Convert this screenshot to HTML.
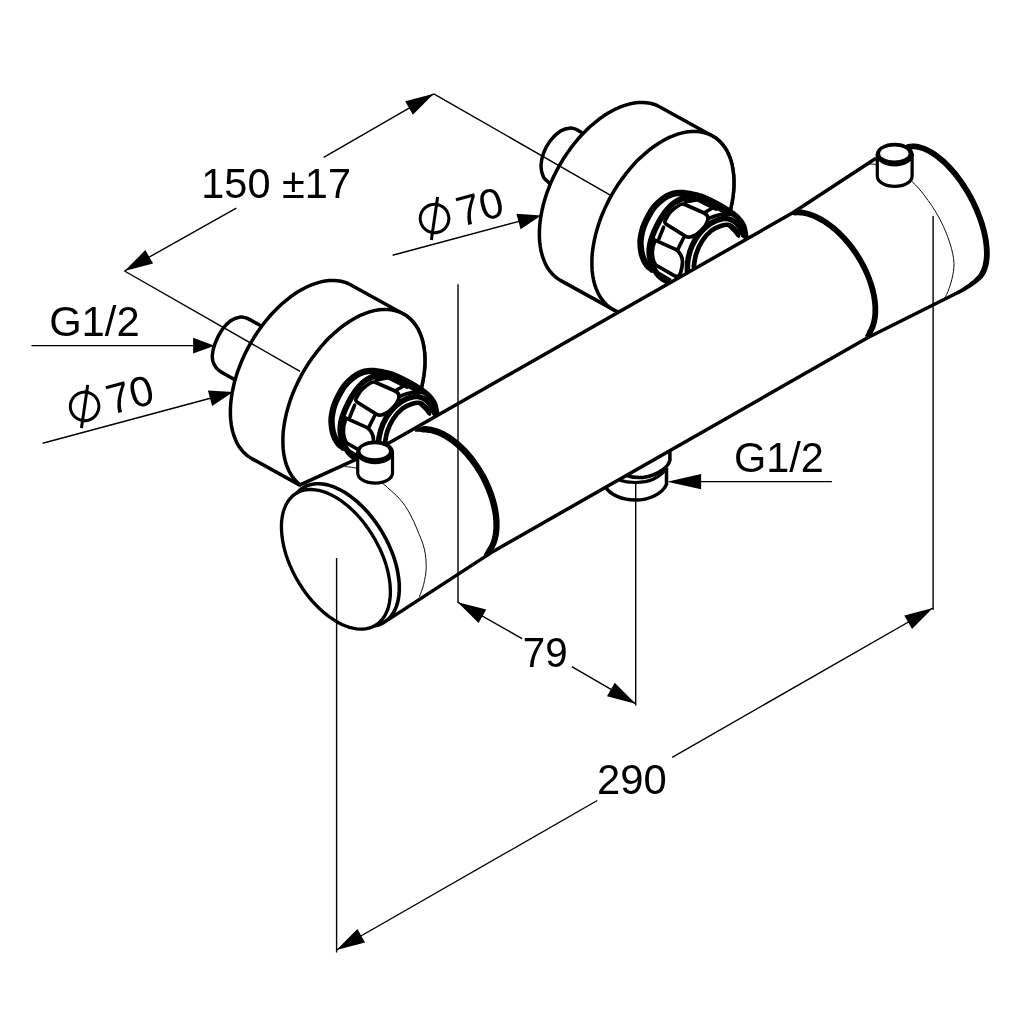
<!DOCTYPE html>
<html><head><meta charset="utf-8"><title>Dimension drawing</title>
<style>html,body{margin:0;padding:0;background:#fff}svg{display:block;will-change:transform}</style></head>
<body>
<svg width="1030" height="1030" viewBox="0 0 1030 1030" font-family="'Liberation Sans', sans-serif" fill="#000">
<rect width="1030" height="1030" fill="#fff"/>
<g id="fr"><path d="M584.6,134.4 C583.3,133.6 579.3,130.9 577,129.8 C574.7,128.7 573.4,127.7 570.7,127.9 C567.9,128.1 563.9,128.9 560.6,131 C557.2,133.1 553.3,136.8 550.5,140.5 C547.6,144.2 545.1,148.9 543.5,153.1 C542,157.3 541,161.7 541,165.7 C541,169.7 541.9,174 543.5,177.1 C545.2,180.2 549.9,183.2 551.1,184.4" fill="#fff" stroke="#000" stroke-width="3.5"/>
<path d="M660.4,107.2 L657.1,105.5 L653.7,104.2 L650.1,103.3 L646.3,102.7 L642.4,102.4 L638.3,102.5 L634.1,103 L629.9,103.9 L625.6,105.1 L621.2,106.6 L616.7,108.5 L612.3,110.7 L607.8,113.3 L603.4,116.1 L598.9,119.3 L594.6,122.8 L590.2,126.5 L586,130.6 L581.9,134.8 L577.8,139.3 L573.9,144 L570.2,148.9 L566.6,154 L563.1,159.3 L559.9,164.7 L556.9,170.1 L554,175.7 L551.4,181.4 L549.1,187.1 L546.9,192.8 L545.1,198.6 L543.4,204.3 L542.1,210 L541,215.6 L540.2,221.1 L539.6,226.5 L539.4,231.8 L539.4,237 L539.7,241.9 L540.3,246.7 L541.1,251.3 L542.3,255.6 L543.7,259.7 L545.3,263.6 L547.2,267.2 L549.4,270.4 L551.8,273.4 L554.5,276.1 L557.3,278.4 L560.4,280.4 L612.9,309.4 L616.2,311.1 L619.6,312.4 L623.2,313.3 L627,313.9 L630.9,314.2 L635,314.1 L639.2,313.6 L643.4,312.7 L647.7,311.5 L652.1,310 L656.6,308.1 L661,305.9 L665.5,303.3 L669.9,300.5 L674.4,297.3 L678.7,293.8 L683.1,290.1 L687.3,286 L691.4,281.8 L695.5,277.3 L699.4,272.6 L703.1,267.7 L706.7,262.6 L710.2,257.3 L713.4,252 L716.4,246.5 L719.3,240.9 L721.9,235.2 L724.2,229.5 L726.4,223.8 L728.2,218 L729.9,212.3 L731.2,206.6 L732.3,201 L733.1,195.5 L733.7,190.1 L733.9,184.8 L733.9,179.6 L733.6,174.7 L733,169.9 L732.2,165.3 L731,161 L729.6,156.9 L728,153 L726.1,149.4 L723.9,146.2 L721.5,143.2 L718.8,140.5 L716,138.2 L712.9,136.2 Z" fill="#fff" stroke="#000" stroke-width="3.5" stroke-linejoin="round"/>
<path d="M712.9,136.2 L716.3,138.4 L719.4,141.1 L722.3,144.2 L724.9,147.6 L727.2,151.4 L729.1,155.5 L730.8,160 L732.1,164.8 L733,169.9 L733.7,175.2 L733.9,180.8 L733.9,186.5 L733.5,192.5 L732.7,198.5 L731.6,204.7 L730.2,211 L728.4,217.4 L726.4,223.8 L724,230.1 L721.3,236.5 L718.3,242.7 L715.1,248.9 L711.6,255 L707.9,260.8 L703.9,266.5 L699.8,272 L695.5,277.3 L691,282.3 L686.4,287 L681.6,291.3 L676.8,295.4 L671.9,299.1 L667,302.4 L662,305.3 L657.1,307.9 L652.1,310 L647.3,311.7 L642.5,313 L637.8,313.8 L633.2,314.1 L628.8,314.1 L624.5,313.6 L620.4,312.6 L616.5,311.2 L612.9,309.4 L609.5,307.2 L606.4,304.5 L603.5,301.4 L600.9,298 L598.6,294.2 L596.7,290.1 L595,285.6 L593.7,280.8 L592.8,275.7 L592.1,270.4 L591.9,264.8 L591.9,259.1 L592.3,253.1 L593.1,247.1 L594.2,240.9 L595.6,234.6 L597.4,228.2 L599.4,221.8 L601.8,215.5 L604.5,209.1 L607.5,202.9 L610.7,196.7 L614.2,190.6 L617.9,184.8 L621.9,179.1 L626,173.6 L630.3,168.3 L634.8,163.3 L639.4,158.6 L644.2,154.3 L649,150.2 L653.9,146.5 L658.8,143.2 L663.8,140.3 L668.7,137.7 L673.7,135.6 L678.5,133.9 L683.3,132.6 L688,131.8 L692.6,131.5 L697,131.5 L701.3,132 L705.4,133 L709.3,134.4 L712.9,136.2 Z" fill="#fff" stroke="#000" stroke-width="3.5"/></g>
<g id="nr"><path d="M689.8,193.7 C686.3,193.2 683.4,192.1 679.3,192.6 C675.2,193.1 669.8,194.2 665.3,196.7 C660.8,199.1 656.2,202.7 652.5,207.1 C648.8,211.6 645.2,218 643.2,223.4 C641.1,228.9 640.2,234.5 640.2,239.8 C640.2,245 641.5,250.4 643.2,254.9 C644.8,259.4 647.6,263.3 650.1,266.6 C652.7,269.9 655.8,272.6 658.3,274.7 C660.8,276.8 660.4,279.6 665.3,279.4 C670.1,279.2 674,280.7 687.4,273.5 C700.8,266.4 736.4,244.2 745.7,236.3 C755,228.3 744.7,228.9 743.4,225.8 C742,222.7 739.9,220 737.5,217.6 C735.2,215.2 732.9,213.5 729.4,211.2 C725.9,208.9 721.4,206.2 716.6,203.6 C711.7,201.1 704.7,197.7 700.2,196.1 C695.8,194.4 693.3,194.3 689.8,193.7 Z" fill="#fff" stroke="none"/>
<path d="M689.8,193.9 C688.6,193.8 684.9,193.1 682.6,193 C680.3,192.9 677.9,192.9 676,193.2 C674.1,193.4 672.8,193.8 671,194.5 C669.2,195.2 667.2,196 665.3,197.2 C663.3,198.4 661.2,200.2 659.3,201.9 C657.3,203.7 655.3,205.6 653.6,207.7 C651.9,209.8 650.6,212.1 649.2,214.7 C647.8,217.2 646.2,220.3 645,223 C643.8,225.7 642.9,228.2 642.2,231 C641.5,233.8 640.9,237.2 640.6,239.8 C640.4,242.4 640.5,244.2 640.7,246.6 C640.9,249 641.2,251.7 641.8,254 C642.4,256.3 643.2,258.5 644.2,260.5 C645.2,262.5 646.3,264.3 647.6,265.8 C648.9,267.3 651.3,268.9 652,269.5" fill="none" stroke="#000" stroke-width="6.4" stroke-linecap="round"/>
<path d="M692.5,196.9 C691.3,197 687.6,197.2 685.5,197.6 C683.4,198 681.8,198.7 680,199.5 C678.2,200.3 676.2,201.3 674.5,202.5 C672.8,203.7 671.5,204.9 669.9,206.5 C668.3,208.1 666.5,210.2 665,212.3 C663.5,214.4 662,216.7 660.6,218.9 C659.2,221.2 658,223.5 656.8,225.8 C655.6,228.1 654.6,230.4 653.6,232.9 C652.6,235.4 651.5,238.2 650.8,240.8 C650.1,243.4 649.6,246 649.4,248.4 C649.2,250.8 649.2,253.2 649.5,255.3 C649.8,257.4 650.3,259.3 650.9,261.3 C651.5,263.3 652.3,265.3 653.3,267.3 C654.3,269.3 655.4,271.5 656.7,273.3 C658,275.1 659.5,276.5 661.3,277.9 C663.1,279.3 666.5,281 667.5,281.6" fill="none" stroke="#000" stroke-width="5.8" stroke-linecap="round"/>
<path d="M684.2,204.3 L703.6,212.8 C707.5,214.6 709.2,217.1 707.6,221.1 C705.3,227.9 698.1,234.2 692.1,236.5 C689.7,237.4 687.4,237.3 685.7,236.3 L667.1,224.8 C664.6,223.3 664.1,222.3 665.4,220 C667.8,214.6 673.3,208.5 679.5,205 C681.4,203.9 682.8,203.7 684.2,204.3 Z" fill="#fff" stroke="#000" stroke-width="3.7" stroke-linecap="round" stroke-linejoin="round"/>
<path d="M685.1,202 L698.8,199.5" fill="none" stroke="#000" stroke-width="3.4" stroke-linecap="round" stroke-linejoin="round"/>
<path d="M698.1,200.1 L716,209.1" fill="none" stroke="#000" stroke-width="3.5" stroke-linecap="round" stroke-linejoin="round"/>
<path d="M705.5,212 L711.7,208.5" fill="none" stroke="#000" stroke-width="3.5" stroke-linecap="round" stroke-linejoin="round"/>
<path d="M663.6,227.2 L658.9,238.7" fill="none" stroke="#000" stroke-width="3.6" stroke-linecap="round" stroke-linejoin="round"/>
<path d="M653.9,239.7 L677.2,250.2" fill="none" stroke="#000" stroke-width="3.6" stroke-linecap="round" stroke-linejoin="round"/>
<path d="M683.4,238.2 L677.9,249.1" fill="none" stroke="#000" stroke-width="3.6" stroke-linecap="round" stroke-linejoin="round"/>
<path d="M654.9,240.8 C652.6,246 652,250 652.4,254.5 C652.8,259 653.6,262.5 655.8,265 L674.2,275.6 C677.5,277.6 679.6,276 680.8,272 C682.6,266 683,259 681,255.5 C680,253.5 679,252 677.2,250.4 " fill="none" stroke="#000" stroke-width="3.7" stroke-linecap="round" stroke-linejoin="round"/>
<path d="M659,272.6 L670.5,279.3" fill="none" stroke="#000" stroke-width="2.0" stroke-linecap="round" stroke-linejoin="round"/>
<path d="M689.8,193.7 C691.5,194.1 695.8,194.4 700.2,196.1 C704.7,197.7 711.7,201.1 716.6,203.6 C721.4,206.2 725.9,208.9 729.4,211.2 C732.9,213.5 735.2,215.2 737.5,217.6 C739.9,220 742,222.7 743.4,225.8 C744.7,228.9 745.3,234.5 745.7,236.3" fill="none" stroke="#000" stroke-width="5.8" stroke-linecap="round" stroke-linejoin="round"/>
<path d="M693.3,198.3 C695.6,199.1 701.8,200.5 707.2,202.9 C712.7,205.4 722.8,211.5 725.9,213.2" fill="none" stroke="#000" stroke-width="3.5" stroke-linecap="round" stroke-linejoin="round"/>
<path d="M687.4,271.2 C687.5,269.3 687.2,263.8 688,259.6 C688.8,255.3 690.1,250.1 692.1,245.6 C694.1,241.1 697.1,236.5 700.2,232.8 C703.4,229.1 707,225.8 710.7,223.4 C714.4,221.1 718.9,219.4 722.4,218.8 C725.9,218.2 729,218.8 731.7,220 C734.4,221.1 736.8,223.3 738.7,225.8 C740.6,228.3 742.6,233.5 743.4,235.1" fill="none" stroke="#000" stroke-width="5.5" stroke-linecap="round" stroke-linejoin="round"/>
<path d="M693.8,266.6 C694.2,264.4 694.8,258 696.2,253.7 C697.5,249.5 699.5,245 702,241.2 C704.5,237.3 708,233.4 711.2,230.8 C714.4,228.2 718.4,226.6 721.4,225.7 C724.5,224.7 727.1,224.4 729.4,225.1 C731.6,225.7 733.5,227.9 735,229.5 C736.4,231.1 737.4,233.7 737.9,234.5" fill="none" stroke="#000" stroke-width="4.7" stroke-linecap="round" stroke-linejoin="round"/>
<path d="M707.8,218.8 C709.3,218.2 713.5,216.3 716.6,215.5 C719.6,214.7 723.3,214.3 725.9,214.1 C728.5,214 731.2,214.6 732.3,214.7" fill="none" stroke="#000" stroke-width="3.6" stroke-linecap="round" stroke-linejoin="round"/>
<path d="M728.2,225.2 C729.2,226.2 732.3,229.2 734,231 C735.8,232.9 737.9,235.4 738.7,236.3" fill="none" stroke="#000" stroke-width="3.0" stroke-linecap="round" stroke-linejoin="round"/></g>
<g id="fl"><path d="M262.8,326.8 C260.3,325.5 251.9,320.6 248.3,318.9 C244.6,317.3 243.6,316.7 240.7,317 C237.7,317.4 233.7,318.6 230.6,320.8 C227.4,323 224.4,326.4 221.7,330.3 C219.1,334.2 216.4,340 214.8,344.2 C213.2,348.4 212.5,352.4 212.3,355.5 C212.1,358.7 212.4,360.6 213.5,363.1 C214.7,365.6 215.4,367.8 219.2,370.7 C223,373.6 233.4,378.8 236.3,380.4" fill="#fff" stroke="#000" stroke-width="3.5"/>
<path d="M351.4,285.2 L348.1,283.5 L344.7,282.2 L341.1,281.3 L337.3,280.7 L333.4,280.4 L329.3,280.5 L325.1,281 L320.9,281.9 L316.6,283.1 L312.2,284.6 L307.7,286.5 L303.3,288.7 L298.8,291.3 L294.4,294.1 L289.9,297.3 L285.6,300.8 L281.2,304.5 L277,308.6 L272.9,312.8 L268.8,317.3 L264.9,322 L261.2,326.9 L257.6,332 L254.1,337.3 L250.9,342.6 L247.9,348.1 L245,353.7 L242.4,359.4 L240.1,365.1 L237.9,370.8 L236.1,376.6 L234.4,382.3 L233.1,388 L232,393.6 L231.2,399.1 L230.6,404.5 L230.4,409.8 L230.4,415 L230.7,419.9 L231.3,424.7 L232.1,429.3 L233.3,433.6 L234.7,437.7 L236.3,441.6 L238.2,445.2 L240.4,448.4 L242.8,451.4 L245.5,454.1 L248.3,456.4 L251.4,458.4 L303.9,487.4 L307.2,489.1 L310.6,490.4 L314.2,491.3 L318,491.9 L321.9,492.2 L326,492.1 L330.2,491.6 L334.4,490.7 L338.7,489.5 L343.1,488 L347.6,486.1 L352,483.9 L356.5,481.3 L360.9,478.5 L365.4,475.3 L369.7,471.8 L374.1,468.1 L378.3,464 L382.4,459.8 L386.5,455.3 L390.4,450.6 L394.1,445.7 L397.7,440.6 L401.2,435.3 L404.4,430 L407.4,424.5 L410.3,418.9 L412.9,413.2 L415.2,407.5 L417.4,401.8 L419.2,396 L420.9,390.3 L422.2,384.6 L423.3,379 L424.1,373.5 L424.7,368.1 L424.9,362.8 L424.9,357.6 L424.6,352.7 L424,347.9 L423.2,343.3 L422,339 L420.6,334.9 L419,331 L417.1,327.4 L414.9,324.2 L412.5,321.2 L409.8,318.5 L407,316.2 L403.9,314.2 Z" fill="#fff" stroke="#000" stroke-width="3.5" stroke-linejoin="round"/>
<path d="M403.9,314.2 L407.3,316.4 L410.4,319.1 L413.3,322.2 L415.9,325.6 L418.2,329.4 L420.1,333.5 L421.8,338 L423.1,342.8 L424,347.9 L424.7,353.2 L424.9,358.8 L424.9,364.5 L424.5,370.5 L423.7,376.5 L422.6,382.7 L421.2,389 L419.4,395.4 L417.4,401.8 L415,408.1 L412.3,414.5 L409.3,420.7 L406.1,426.9 L402.6,433 L398.9,438.8 L394.9,444.5 L390.8,450 L386.5,455.3 L382,460.3 L377.4,465 L372.6,469.3 L367.8,473.4 L362.9,477.1 L358,480.4 L353,483.3 L348.1,485.9 L343.1,488 L338.3,489.7 L333.5,491 L328.8,491.8 L324.2,492.1 L319.8,492.1 L315.5,491.6 L311.4,490.6 L307.5,489.2 L303.9,487.4 L300.5,485.2 L297.4,482.5 L294.5,479.4 L291.9,476 L289.6,472.2 L287.7,468.1 L286,463.6 L284.7,458.8 L283.8,453.7 L283.1,448.4 L282.9,442.8 L282.9,437.1 L283.3,431.1 L284.1,425.1 L285.2,418.9 L286.6,412.6 L288.4,406.2 L290.4,399.8 L292.8,393.5 L295.5,387.1 L298.5,380.9 L301.7,374.7 L305.2,368.6 L308.9,362.8 L312.9,357.1 L317,351.6 L321.3,346.3 L325.8,341.3 L330.4,336.6 L335.2,332.3 L340,328.2 L344.9,324.5 L349.8,321.2 L354.8,318.3 L359.7,315.7 L364.7,313.6 L369.5,311.9 L374.3,310.6 L379,309.8 L383.6,309.5 L388,309.5 L392.3,310 L396.4,311 L400.3,312.4 L403.9,314.2 Z" fill="#fff" stroke="#000" stroke-width="3.5"/></g>
<g id="nl" transform="translate(-309,178)"><path d="M689.8,193.7 C686.3,193.2 683.4,192.1 679.3,192.6 C675.2,193.1 669.8,194.2 665.3,196.7 C660.8,199.1 656.2,202.7 652.5,207.1 C648.8,211.6 645.2,218 643.2,223.4 C641.1,228.9 640.2,234.5 640.2,239.8 C640.2,245 641.5,250.4 643.2,254.9 C644.8,259.4 647.6,263.3 650.1,266.6 C652.7,269.9 655.8,272.6 658.3,274.7 C660.8,276.8 660.4,279.6 665.3,279.4 C670.1,279.2 674,280.7 687.4,273.5 C700.8,266.4 736.4,244.2 745.7,236.3 C755,228.3 744.7,228.9 743.4,225.8 C742,222.7 739.9,220 737.5,217.6 C735.2,215.2 732.9,213.5 729.4,211.2 C725.9,208.9 721.4,206.2 716.6,203.6 C711.7,201.1 704.7,197.7 700.2,196.1 C695.8,194.4 693.3,194.3 689.8,193.7 Z" fill="#fff" stroke="none"/>
<path d="M689.8,193.9 C688.6,193.8 684.9,193.1 682.6,193 C680.3,192.9 677.9,192.9 676,193.2 C674.1,193.4 672.8,193.8 671,194.5 C669.2,195.2 667.2,196 665.3,197.2 C663.3,198.4 661.2,200.2 659.3,201.9 C657.3,203.7 655.3,205.6 653.6,207.7 C651.9,209.8 650.6,212.1 649.2,214.7 C647.8,217.2 646.2,220.3 645,223 C643.8,225.7 642.9,228.2 642.2,231 C641.5,233.8 640.9,237.2 640.6,239.8 C640.4,242.4 640.5,244.2 640.7,246.6 C640.9,249 641.2,251.7 641.8,254 C642.4,256.3 643.2,258.5 644.2,260.5 C645.2,262.5 646.3,264.3 647.6,265.8 C648.9,267.3 651.3,268.9 652,269.5" fill="none" stroke="#000" stroke-width="6.4" stroke-linecap="round"/>
<path d="M692.5,196.9 C691.3,197 687.6,197.2 685.5,197.6 C683.4,198 681.8,198.7 680,199.5 C678.2,200.3 676.2,201.3 674.5,202.5 C672.8,203.7 671.5,204.9 669.9,206.5 C668.3,208.1 666.5,210.2 665,212.3 C663.5,214.4 662,216.7 660.6,218.9 C659.2,221.2 658,223.5 656.8,225.8 C655.6,228.1 654.6,230.4 653.6,232.9 C652.6,235.4 651.5,238.2 650.8,240.8 C650.1,243.4 649.6,246 649.4,248.4 C649.2,250.8 649.2,253.2 649.5,255.3 C649.8,257.4 650.3,259.3 650.9,261.3 C651.5,263.3 652.3,265.3 653.3,267.3 C654.3,269.3 655.4,271.5 656.7,273.3 C658,275.1 659.5,276.5 661.3,277.9 C663.1,279.3 666.5,281 667.5,281.6" fill="none" stroke="#000" stroke-width="5.8" stroke-linecap="round"/>
<path d="M684.2,204.3 L703.6,212.8 C707.5,214.6 709.2,217.1 707.6,221.1 C705.3,227.9 698.1,234.2 692.1,236.5 C689.7,237.4 687.4,237.3 685.7,236.3 L667.1,224.8 C664.6,223.3 664.1,222.3 665.4,220 C667.8,214.6 673.3,208.5 679.5,205 C681.4,203.9 682.8,203.7 684.2,204.3 Z" fill="#fff" stroke="#000" stroke-width="3.7" stroke-linecap="round" stroke-linejoin="round"/>
<path d="M685.1,202 L698.8,199.5" fill="none" stroke="#000" stroke-width="3.4" stroke-linecap="round" stroke-linejoin="round"/>
<path d="M698.1,200.1 L716,209.1" fill="none" stroke="#000" stroke-width="3.5" stroke-linecap="round" stroke-linejoin="round"/>
<path d="M705.5,212 L711.7,208.5" fill="none" stroke="#000" stroke-width="3.5" stroke-linecap="round" stroke-linejoin="round"/>
<path d="M663.6,227.2 L658.9,238.7" fill="none" stroke="#000" stroke-width="3.6" stroke-linecap="round" stroke-linejoin="round"/>
<path d="M653.9,239.7 L677.2,250.2" fill="none" stroke="#000" stroke-width="3.6" stroke-linecap="round" stroke-linejoin="round"/>
<path d="M683.4,238.2 L677.9,249.1" fill="none" stroke="#000" stroke-width="3.6" stroke-linecap="round" stroke-linejoin="round"/>
<path d="M654.9,240.8 C652.6,246 652,250 652.4,254.5 C652.8,259 653.6,262.5 655.8,265 L674.2,275.6 C677.5,277.6 679.6,276 680.8,272 C682.6,266 683,259 681,255.5 C680,253.5 679,252 677.2,250.4 " fill="none" stroke="#000" stroke-width="3.7" stroke-linecap="round" stroke-linejoin="round"/>
<path d="M659,272.6 L670.5,279.3" fill="none" stroke="#000" stroke-width="2.0" stroke-linecap="round" stroke-linejoin="round"/>
<path d="M689.8,193.7 C691.5,194.1 695.8,194.4 700.2,196.1 C704.7,197.7 711.7,201.1 716.6,203.6 C721.4,206.2 725.9,208.9 729.4,211.2 C732.9,213.5 735.2,215.2 737.5,217.6 C739.9,220 742,222.7 743.4,225.8 C744.7,228.9 745.3,234.5 745.7,236.3" fill="none" stroke="#000" stroke-width="5.8" stroke-linecap="round" stroke-linejoin="round"/>
<path d="M693.3,198.3 C695.6,199.1 701.8,200.5 707.2,202.9 C712.7,205.4 722.8,211.5 725.9,213.2" fill="none" stroke="#000" stroke-width="3.5" stroke-linecap="round" stroke-linejoin="round"/>
<path d="M687.4,271.2 C687.5,269.3 687.2,263.8 688,259.6 C688.8,255.3 690.1,250.1 692.1,245.6 C694.1,241.1 697.1,236.5 700.2,232.8 C703.4,229.1 707,225.8 710.7,223.4 C714.4,221.1 718.9,219.4 722.4,218.8 C725.9,218.2 729,218.8 731.7,220 C734.4,221.1 736.8,223.3 738.7,225.8 C740.6,228.3 742.6,233.5 743.4,235.1" fill="none" stroke="#000" stroke-width="5.5" stroke-linecap="round" stroke-linejoin="round"/>
<path d="M693.8,266.6 C694.2,264.4 694.8,258 696.2,253.7 C697.5,249.5 699.5,245 702,241.2 C704.5,237.3 708,233.4 711.2,230.8 C714.4,228.2 718.4,226.6 721.4,225.7 C724.5,224.7 727.1,224.4 729.4,225.1 C731.6,225.7 733.5,227.9 735,229.5 C736.4,231.1 737.4,233.7 737.9,234.5" fill="none" stroke="#000" stroke-width="4.7" stroke-linecap="round" stroke-linejoin="round"/>
<path d="M707.8,218.8 C709.3,218.2 713.5,216.3 716.6,215.5 C719.6,214.7 723.3,214.3 725.9,214.1 C728.5,214 731.2,214.6 732.3,214.7" fill="none" stroke="#000" stroke-width="3.6" stroke-linecap="round" stroke-linejoin="round"/>
<path d="M728.2,225.2 C729.2,226.2 732.3,229.2 734,231 C735.8,232.9 737.9,235.4 738.7,236.3" fill="none" stroke="#000" stroke-width="3.0" stroke-linecap="round" stroke-linejoin="round"/></g>
<g id="out"><path d="M666.5,457.9 L666.5,484.4 C662,494.5 648.2,500.1 635.5,500.1 C621.7,500.1 610.3,494.5 605.9,487.5 L635.5,468 Z" fill="#fff" stroke="none"/>
<path d="M666.5,468 L666.5,484.4 C662,494.5 648.2,500.1 635.5,500.1 C621.7,500.1 610.3,494.5 605.9,487.5" fill="none" stroke="#000" stroke-width="3.5" stroke-linejoin="round"/>
<path d="M669.9,450.3 L669.9,460.4 C668.4,466.7 658.3,475.5 643.1,477.4 C635.5,478.1 630.5,476.8 626.7,475.5" fill="none" stroke="#000" stroke-width="3.5"/>
<path d="M619.8,480.3 C628,483.1 643.1,483.7 653.2,479.3 C659.5,476.2 664.6,471.7 666.8,467.3" fill="none" stroke="#000" stroke-width="3.2"/></g>
<g id="body"><clipPath id="bc"><path d="M299,485.4 L357.1,458.9 L385,445.3 L421,424.8 L793.2,212.5 L876,158.2 L906.8,147.5 L908.6,146.9 L910.5,146.6 L912.4,146.4 L914.5,146.4 L916.6,146.6 L918.8,147 L921,147.6 L923.3,148.4 L925.6,149.3 L928,150.5 L930.4,151.8 L932.8,153.2 L935.3,154.9 L937.7,156.7 L940.2,158.7 L942.6,160.8 L945.1,163 L947.5,165.5 L950,168 L952.4,170.7 L954.7,173.5 L957,176.4 L959.3,179.4 L961.5,182.5 L963.7,185.7 L965.8,188.9 L967.8,192.3 L969.7,195.7 L971.6,199.1 L973.4,202.6 L975,206.2 L976.6,209.7 L978.1,213.3 L979.5,216.9 L980.8,220.4 L981.9,224 L983,227.5 L983.9,231 L984.7,234.4 L985.4,237.8 L985.9,241.1 L986.3,244.4 L986.6,247.6 L986.8,250.7 L986.9,253.6 L986.8,256.5 L986.6,259.3 L986.2,261.9 L985.7,264.4 L985.1,266.8 L984.4,269 L983.6,271.1 L982.6,273 L981.5,274.8 L980.6,276.1 L979.4,277.5 L977.9,279 L976.1,280.6 L974,282.3 L971.8,284 L969.4,285.7 L966.9,287.4 L964.2,289 L961.5,290.6 L958.8,292.1 L956,293.5 L956,293.5 L868.5,337.3 L493.2,551.4 L389.5,618.9 Z"/></clipPath>
<path d="M299,485.4 L357.1,458.9 L385,445.3 L421,424.8 L793.2,212.5 L876,158.2 L906.8,147.5 L908.6,146.9 L910.5,146.6 L912.4,146.4 L914.5,146.4 L916.6,146.6 L918.8,147 L921,147.6 L923.3,148.4 L925.6,149.3 L928,150.5 L930.4,151.8 L932.8,153.2 L935.3,154.9 L937.7,156.7 L940.2,158.7 L942.6,160.8 L945.1,163 L947.5,165.5 L950,168 L952.4,170.7 L954.7,173.5 L957,176.4 L959.3,179.4 L961.5,182.5 L963.7,185.7 L965.8,188.9 L967.8,192.3 L969.7,195.7 L971.6,199.1 L973.4,202.6 L975,206.2 L976.6,209.7 L978.1,213.3 L979.5,216.9 L980.8,220.4 L981.9,224 L983,227.5 L983.9,231 L984.7,234.4 L985.4,237.8 L985.9,241.1 L986.3,244.4 L986.6,247.6 L986.8,250.7 L986.9,253.6 L986.8,256.5 L986.6,259.3 L986.2,261.9 L985.7,264.4 L985.1,266.8 L984.4,269 L983.6,271.1 L982.6,273 L981.5,274.8 L980.6,276.1 L979.4,277.5 L977.9,279 L976.1,280.6 L974,282.3 L971.8,284 L969.4,285.7 L966.9,287.4 L964.2,289 L961.5,290.6 L958.8,292.1 L956,293.5 L956,293.5 L868.5,337.3 L493.2,551.4 L389.5,618.9 Z" fill="#fff" stroke="none"/>
<path d="M384,622.3 L381.2,623.8 L378.3,624.9 L375.2,625.6 L371.9,626 L368.5,626.1 L364.9,625.8 L361.3,625.2 L357.6,624.2 L353.8,622.9 L350,621.2 L346.1,619.3 L342.2,617 L338.4,614.4 L334.5,611.5 L330.7,608.4 L327,605 L323.3,601.3 L319.8,597.5 L316.4,593.4 L313.1,589.1 L309.9,584.7 L306.9,580.1 L304.1,575.4 L301.5,570.6 L299.1,565.7 L296.9,560.7 L294.9,555.8 L293.2,550.8 L291.7,545.9 L290.5,541 L289.6,536.1 L288.9,531.4 L288.4,526.8 L288.3,522.3 L288.4,517.9 L288.8,513.8 L289.4,509.8 L290.3,506.1 L291.5,502.6 L292.9,499.3 L294.6,496.4 L296.5,493.7 L298.7,491.3 L301,489.2 L303.6,487.5 L306.4,486 L309.3,484.9 L312.4,484.2 L315.7,483.8 L319.1,483.7 L322.7,484 L326.3,484.6 L330,485.6 L333.8,486.9 L337.6,488.6 L341.5,490.5 L345.4,492.8 L349.2,495.4 L353.1,498.3 L356.9,501.4 L360.6,504.8 L364.3,508.5 L367.8,512.3 L371.2,516.4 L374.5,520.7 L377.7,525.1 L380.7,529.7 L383.5,534.4 L386.1,539.2 L388.5,544.1 L390.7,549.1 L392.7,554 L394.4,559 L395.9,563.9 L397.1,568.8 L398,573.7 L398.7,578.4 L399.2,583 L399.3,587.5 L399.2,591.9 L398.8,596 L398.2,600 L397.3,603.7 L396.1,607.2 L394.7,610.5 L393,613.4 L391.1,616.1 L388.9,618.5 L386.6,620.6 L384,622.3 Z" fill="#fff" stroke="none"/>
<g clip-path="url(#bc)">
<path d="M415.2,431.8 L416.7,431.7 L418.2,431.7 L419.7,431.8 L421.2,432.1 L422.6,432.4 L424.1,432.6 L425.6,432.6 L427.1,432.7 L428.6,432.9 L430.2,433.1 L431.8,433.5 L433.4,433.9 L435.1,434.5 L436.7,435.1 L438.4,435.8 L440.2,436.5 L441.9,437.4 L443.6,438.3 L445.4,439.4 L447.1,440.5 L448.9,441.7 L450.7,442.9 L452.4,444.3 L454.2,445.7 L455.9,447.2 L457.6,448.7 L459.3,450.3 L461,452 L462.7,453.8 L464.4,455.6 L466,457.4 L467.6,459.4 L469.2,461.3 L470.7,463.4 L472.2,465.4 L473.7,467.5 L475.1,469.7 L476.5,471.9 L477.8,474.1 L479.1,476.3 L480.4,478.6 L481.6,480.9 L482.7,483.3 L483.8,485.6 L484.8,488 L485.8,490.3 L486.8,492.7 L487.6,495.1 L488.5,497.4 L489.2,499.8 L489.9,502.2 L490.6,504.5 L491.1,506.9 L491.6,509.2 L492.1,511.5 L492.5,513.7 L492.8,516 L493,518.2 L493.2,520.4 L493.3,522.5 L493.4,524.6 L493.4,526.7 L493.3,528.7 L493.1,530.6 L492.9,532.5 L492.7,534.4 L492.3,536.2 L491.9,537.9 L491.5,539.6 L491,541.1 L490.4,542.7 L489.8,544.1 L489.1,545.5 L488.3,546.8 L487.6,548 L486.7,549.2 L486.1,550.5 L485.4,551.8 L484.7,553 L483.8,554.2 L485.7,556.6 L487.2,555.8 L488.6,554.9 L490.1,554 L491.5,552.9 L492.5,551.4 L493.5,549.9 L494.4,548.3 L495.2,546.7 L496,545 L496.7,543.2 L497.3,541.3 L497.9,539.4 L498.3,537.5 L498.7,535.4 L499.1,533.4 L499.3,531.2 L499.5,529.1 L499.6,526.9 L499.6,524.6 L499.6,522.3 L499.5,520 L499.3,517.6 L499.1,515.2 L498.7,512.8 L498.4,510.4 L497.9,507.9 L497.4,505.4 L496.8,502.9 L496.1,500.4 L495.4,497.9 L494.6,495.4 L493.8,492.9 L492.8,490.4 L491.9,487.9 L490.8,485.4 L489.7,482.9 L488.6,480.4 L487.4,478 L486.1,475.6 L484.8,473.2 L483.4,470.8 L482,468.5 L480.5,466.2 L479,463.9 L477.5,461.7 L475.9,459.5 L474.3,457.3 L472.6,455.3 L470.9,453.2 L469.2,451.2 L467.5,449.3 L465.7,447.5 L463.9,445.7 L462,443.9 L460.2,442.3 L458.3,440.7 L456.4,439.2 L454.5,437.7 L452.6,436.3 L450.7,435 L448.8,433.8 L446.8,432.7 L444.9,431.6 L443,430.7 L441,429.8 L439.1,429 L437.2,428.3 L435.2,427.7 L433.3,427.2 L431.4,426.8 L429.5,426.4 L427.7,426.2 L425.8,426.1 L424,426.1 L422.2,426.4 L420.5,427 L418.9,427.7 L417.4,428.5 L416,429.4 L414.7,430.4 Z" fill="#000"/>
<path d="M786.3,215.5 L787.8,215.3 L789.3,215.1 L790.8,215.1 L792.4,215.1 L793.9,215.3 L795.4,215.4 L796.9,215.3 L798.4,215.3 L800,215.4 L801.7,215.6 L803.3,215.8 L805,216.1 L806.7,216.6 L808.5,217.1 L810.3,217.7 L812.1,218.3 L813.9,219.1 L815.7,219.9 L817.6,220.9 L819.4,221.9 L821.3,223 L823.2,224.1 L825,225.4 L826.9,226.7 L828.8,228.1 L830.6,229.5 L832.5,231 L834.3,232.6 L836.1,234.3 L837.9,236 L839.7,237.8 L841.4,239.6 L843.1,241.5 L844.8,243.5 L846.5,245.5 L848.1,247.5 L849.7,249.6 L851.3,251.7 L852.8,253.9 L854.3,256.1 L855.7,258.3 L857.1,260.6 L858.4,262.8 L859.7,265.2 L860.9,267.5 L862.1,269.8 L863.2,272.2 L864.3,274.5 L865.3,276.9 L866.2,279.3 L867.1,281.6 L867.9,284 L868.6,286.3 L869.3,288.7 L869.9,291 L870.5,293.3 L871,295.6 L871.4,297.9 L871.7,300.1 L872,302.3 L872.2,304.5 L872.4,306.6 L872.4,308.7 L872.4,310.7 L872.4,312.7 L872.3,314.6 L872.1,316.5 L871.8,318.4 L871.5,320.1 L871.1,321.8 L870.6,323.5 L870.1,325 L869.5,326.6 L868.9,328 L868.2,329.4 L867.5,330.6 L866.9,332.1 L866.4,333.4 L865.7,334.8 L864.9,336.1 L867.1,338.2 L868.5,337.2 L869.8,336.2 L871.1,335 L872.4,333.7 L873.3,332.1 L874.1,330.5 L874.9,328.8 L875.6,327 L876.2,325.1 L876.7,323.2 L877.1,321.3 L877.5,319.3 L877.8,317.2 L878,315.1 L878.2,313 L878.2,310.8 L878.2,308.6 L878.2,306.3 L878,304 L877.8,301.7 L877.5,299.3 L877.1,296.9 L876.7,294.5 L876.1,292 L875.6,289.6 L874.9,287.1 L874.2,284.7 L873.4,282.2 L872.5,279.7 L871.6,277.2 L870.6,274.7 L869.6,272.2 L868.5,269.7 L867.3,267.3 L866.1,264.8 L864.8,262.4 L863.4,260 L862.1,257.6 L860.6,255.2 L859.1,252.9 L857.6,250.6 L856,248.3 L854.4,246.1 L852.7,243.9 L851,241.8 L849.3,239.7 L847.5,237.7 L845.7,235.7 L843.8,233.7 L842,231.9 L840.1,230.1 L838.1,228.3 L836.2,226.6 L834.3,225 L832.3,223.4 L830.3,222 L828.3,220.6 L826.3,219.2 L824.3,218 L822.3,216.8 L820.3,215.7 L818.2,214.7 L816.2,213.8 L814.2,213 L812.2,212.2 L810.2,211.5 L808.2,211 L806.3,210.5 L804.3,210.1 L802.4,209.8 L800.5,209.6 L798.6,209.5 L796.8,209.5 L794.9,209.6 L793.2,210 L791.5,210.6 L789.9,211.4 L788.4,212.2 L787,213.2 L785.7,214.1 Z" fill="#000"/>
<path d="M344.5,466.5 C346.6,466.8 352.7,467.1 357.1,468.4 C361.5,469.7 366.6,471.9 371,474.5 C375.4,477.1 378.8,480.1 383.6,484.2 C388.4,488.3 395.6,494.3 400,499.3 C404.4,504.3 407.1,508.9 410,514 C412.9,519.1 415,524.2 417.4,530 C419.8,535.8 422.8,542.6 424.3,548.9 C425.8,555.2 426.3,562 426.2,567.9 C426.1,573.8 424.8,579.5 423.7,584.3 C422.6,589.1 420,594.8 419.3,596.9" fill="none" stroke="#000" stroke-width="0.95"/>
<path d="M865.4,164.4 C867.1,164.4 870.7,163.5 875.6,164.4 C880.5,165.3 889,167.2 895,170 C901,172.8 906.6,176.9 911.6,181.2 C916.6,185.5 920.4,190.2 924.8,196 C929.2,201.8 934.1,208.9 938,215.8 C941.9,222.7 945.3,230.2 947.9,237.3 C950.5,244.5 952.8,252.4 953.6,258.7 C954.4,265 953.8,269.7 952.8,275.2 C951.8,280.7 949.4,287.7 947.9,291.7 C946.4,295.7 944.4,297.9 943.7,299.2" fill="none" stroke="#000" stroke-width="0.95"/>
</g>
<path d="M299,485.4 L357.1,458.9 L385,445.3 L421,424.8 L793.2,212.5 L876,158.2" fill="none" stroke="#000" stroke-width="3.5" stroke-linejoin="round"/>
<path d="M956,293.5 L868.5,337.3 L493.2,551.4 L389.5,618.9" fill="none" stroke="#000" stroke-width="3.5" stroke-linejoin="round" stroke-linecap="round"/>
<path d="M907.6,150.2 L909.2,149.7 L910.8,149.5 L912.5,149.3 L914.3,149.3 L916.2,149.5 L918.1,149.9 L920.2,150.4 L922.3,151.1 L924.4,152 L926.7,153.1 L928.9,154.3 L931.2,155.7 L933.6,157.3 L936,159 L938.3,160.9 L940.7,162.9 L943.1,165.1 L945.5,167.5 L947.8,170 L950.2,172.6 L952.5,175.3 L954.7,178.1 L957,181.1 L959.1,184.1 L961.2,187.3 L963.3,190.5 L965.3,193.7 L967.2,197.1 L969,200.5 L970.8,203.9 L972.4,207.4 L974,210.9 L975.4,214.4 L976.8,217.9 L978,221.4 L979.1,224.8 L980.2,228.3 L981.1,231.7 L981.8,235 L982.5,238.3 L983,241.6 L983.5,244.7 L983.7,247.8 L983.9,250.8 L984,253.6 L983.9,256.4 L983.7,259 L983.3,261.5 L982.9,263.8 L982.4,266 L981.7,268 L980.9,269.9 L980.1,271.6 L979.2,273.3 L978.5,274.4 L977.5,275.7 L976.1,277.1 L974.5,278.7 L972.6,280.4 L970.4,282.1 L968.2,283.9 L965.7,285.6 L963.2,287.3 L960.6,288.9 L957.9,290.5 L955.2,291.9 L956.8,295.1 L959.6,293.7 L962.5,292.3 L965.3,290.7 L968,289.1 L970.6,287.5 L973.1,285.8 L975.5,284.1 L977.6,282.5 L979.6,280.8 L981.3,279.3 L982.7,277.8 L983.9,276.3 L985.1,274.4 L986.2,272.3 L987.1,270 L987.9,267.6 L988.6,265 L989.1,262.4 L989.4,259.6 L989.7,256.7 L989.8,253.7 L989.7,250.5 L989.5,247.4 L989.2,244.1 L988.8,240.7 L988.2,237.3 L987.5,233.8 L986.7,230.3 L985.7,226.7 L984.7,223.1 L983.5,219.5 L982.2,215.9 L980.8,212.2 L979.3,208.6 L977.7,205 L976,201.4 L974.2,197.8 L972.3,194.3 L970.3,190.8 L968.2,187.4 L966.1,184.1 L963.9,180.8 L961.6,177.7 L959.3,174.6 L957,171.6 L954.5,168.8 L952.1,166 L949.6,163.4 L947.1,160.9 L944.6,158.6 L942,156.4 L939.5,154.4 L936.9,152.5 L934.4,150.8 L931.8,149.3 L929.3,147.9 L926.8,146.7 L924.3,145.7 L921.8,144.9 L919.4,144.2 L917,143.8 L914.6,143.5 L912.3,143.5 L910.1,143.7 L907.9,144.1 L905.9,144.7 Z" fill="#000"/>
<path d="M384,622.3 L381.2,623.8 L378.3,624.9 L375.2,625.6 L371.9,626 L368.5,626.1 L364.9,625.8 L361.3,625.2 L357.6,624.2 L353.8,622.9 L350,621.2 L346.1,619.3 L342.2,617 L338.4,614.4 L334.5,611.5 L330.7,608.4 L327,605 L323.3,601.3 L319.8,597.5 L316.4,593.4 L313.1,589.1 L309.9,584.7 L306.9,580.1 L304.1,575.4 L301.5,570.6 L299.1,565.7 L296.9,560.7 L294.9,555.8 L293.2,550.8 L291.7,545.9 L290.5,541 L289.6,536.1 L288.9,531.4 L288.4,526.8 L288.3,522.3 L288.4,517.9 L288.8,513.8 L289.4,509.8 L290.3,506.1 L291.5,502.6 L292.9,499.3 L294.6,496.4 L296.5,493.7 L298.7,491.3 L301,489.2 L303.6,487.5 L306.4,486 L309.3,484.9 L312.4,484.2 L315.7,483.8 L319.1,483.7 L322.7,484 L326.3,484.6 L330,485.6 L333.8,486.9 L337.6,488.6 L341.5,490.5 L345.4,492.8 L349.2,495.4 L353.1,498.3 L356.9,501.4 L360.6,504.8 L364.3,508.5 L367.8,512.3 L371.2,516.4 L374.5,520.7 L377.7,525.1 L380.7,529.7 L383.5,534.4 L386.1,539.2 L388.5,544.1 L390.7,549.1 L392.7,554 L394.4,559 L395.9,563.9 L397.1,568.8 L398,573.7 L398.7,578.4 L399.2,583 L399.3,587.5 L399.2,591.9 L398.8,596 L398.2,600 L397.3,603.7 L396.1,607.2 L394.7,610.5 L393,613.4 L391.1,616.1 L388.9,618.5 L386.6,620.6 L384,622.3 Z" fill="none" stroke="#000" stroke-width="3.6"/>
<path d="M375.3,625.4 L372.6,626.8 L369.7,627.9 L366.6,628.7 L363.4,629.1 L360.1,629.1 L356.6,628.8 L353,628.2 L349.4,627.3 L345.7,626 L341.9,624.4 L338.1,622.5 L334.3,620.2 L330.5,617.7 L326.8,614.9 L323,611.8 L319.4,608.5 L315.8,604.9 L312.3,601.1 L308.9,597.1 L305.7,592.9 L302.6,588.5 L299.7,584 L296.9,579.4 L294.4,574.7 L292,569.9 L289.9,565.1 L287.9,560.2 L286.2,555.3 L284.8,550.5 L283.6,545.7 L282.7,540.9 L282,536.3 L281.6,531.7 L281.4,527.3 L281.5,523 L281.9,519 L282.5,515.1 L283.4,511.4 L284.6,508 L286,504.8 L287.6,501.9 L289.5,499.3 L291.6,496.9 L293.9,494.9 L296.5,493.2 L299.2,491.8 L302.1,490.7 L305.2,489.9 L308.4,489.5 L311.7,489.5 L315.2,489.8 L318.8,490.4 L322.4,491.3 L326.1,492.6 L329.9,494.2 L333.7,496.1 L337.5,498.4 L341.3,500.9 L345,503.7 L348.8,506.8 L352.4,510.1 L356,513.7 L359.5,517.5 L362.9,521.5 L366.1,525.7 L369.2,530.1 L372.1,534.6 L374.9,539.2 L377.4,543.9 L379.8,548.7 L381.9,553.5 L383.9,558.4 L385.6,563.3 L387,568.1 L388.2,572.9 L389.1,577.7 L389.8,582.3 L390.2,586.9 L390.4,591.3 L390.3,595.6 L389.9,599.6 L389.3,603.5 L388.4,607.2 L387.2,610.6 L385.8,613.8 L384.2,616.7 L382.3,619.3 L380.2,621.7 L377.9,623.7 L375.3,625.4 Z" fill="#fff" stroke="#000" stroke-width="3.3"/></g>
<g id="kn"><path d="M877.3,154.6 L877.3,176.2 A17.4,10.2 0 0 0 912.1,176.2 L912.1,154.6 Z" fill="#fff" stroke="#000" stroke-width="3.2" stroke-linejoin="round"/>
<ellipse cx="894.7" cy="154.6" rx="19" ry="11.9" fill="#000"/>
<ellipse cx="894.3" cy="153.5" rx="14.2" ry="7" fill="#fff"/><path d="M357.7,452.4 L357.7,472.9 A17.4,10.2 0 0 0 392.5,472.9 L392.5,452.4 Z" fill="#fff" stroke="#000" stroke-width="3.2" stroke-linejoin="round"/>
<ellipse cx="375.1" cy="452.4" rx="19" ry="11.9" fill="#000"/>
<ellipse cx="374.7" cy="451.3" rx="14.2" ry="7" fill="#fff"/></g>
<g id="dims"><path d="M124.5,271 L236.3,208.1" fill="none" stroke="#000" stroke-width="1.4"/>
<path d="M323.7,157.4 L433.8,93.8" fill="none" stroke="#000" stroke-width="1.4"/>
<path d="M124.5,271 L145.4,250.1 L153.1,263.6 Z" fill="#000"/>
<path d="M433.8,93.8 L412.9,114.7 L405.2,101.2 Z" fill="#000"/>
<path d="M124.5,271 L300,371.3" fill="none" stroke="#000" stroke-width="1.4"/>
<path d="M433.8,93.8 L609.8,194.8" fill="none" stroke="#000" stroke-width="1.4"/>
<text x="201.3" y="198.4" font-size="42.5" textLength="149.7" lengthAdjust="spacingAndGlyphs">150 ±17</text>
<path d="M31.4,345.6 L200,345.6" fill="none" stroke="#000" stroke-width="1.4"/>
<path d="M214.6,345.7 L193.1,353.6 L193.1,337.8 Z" fill="#000"/>
<text x="49.2" y="336.3" font-size="42.5" textLength="90.4" lengthAdjust="spacingAndGlyphs">G1/2</text>
<path d="M42.7,443.2 L215,397" fill="none" stroke="#000" stroke-width="1.4"/>
<path d="M233.2,392.1 L212.1,406 L207.9,390.6 Z" fill="#000"/>
<path d="M392.6,255.2 L522,220.6" fill="none" stroke="#000" stroke-width="1.4"/>
<path d="M541.2,215.5 L520.6,229.3 L516.4,213.8 Z" fill="#000"/>
<path d="M690,481.6 L831.9,481.6" fill="none" stroke="#000" stroke-width="1.4"/>
<path d="M667.1,481.7 L701.1,474.1 L701.1,489.3 Z" fill="#000"/>
<text x="734" y="471.9" font-size="42.5" textLength="89.8" lengthAdjust="spacingAndGlyphs">G1/2</text>
<path d="M457.7,602.2 L522,638.6" fill="none" stroke="#000" stroke-width="1.4"/>
<path d="M571.8,666.6 L635.6,703.7" fill="none" stroke="#000" stroke-width="1.4"/>
<path d="M457.7,602.2 L486.3,609.6 L478.6,623.1 Z" fill="#000"/>
<path d="M635.6,703.7 L607,696.3 L614.7,682.8 Z" fill="#000"/>
<text x="522.8" y="667.2" font-size="42.5" textLength="44.8" lengthAdjust="spacingAndGlyphs">79</text>
<path d="M336.5,950 L597.3,800.5" fill="none" stroke="#000" stroke-width="1.4"/>
<path d="M672.2,757.3 L932.9,608" fill="none" stroke="#000" stroke-width="1.4"/>
<path d="M336.5,950 L357.4,929.1 L365.1,942.5 Z" fill="#000"/>
<path d="M932.9,608 L912,628.9 L904.3,615.5 Z" fill="#000"/>
<text x="597.1" y="794.4" font-size="42.5" textLength="69.7" lengthAdjust="spacingAndGlyphs">290</text>
<path d="M458,284.2 L458,602.6" fill="none" stroke="#000" stroke-width="1.4"/>
<path d="M336.6,558 L336.6,952.6" fill="none" stroke="#000" stroke-width="1.4"/>
<path d="M635.7,483 L635.7,705.5" fill="none" stroke="#000" stroke-width="1.4"/>
<path d="M933.1,216 L933.1,610" fill="none" stroke="#000" stroke-width="1.4"/>
<g transform="rotate(-15 434.5 218.5)"><ellipse cx="434.5" cy="218.5" rx="14.3" ry="14.3" fill="none" stroke="#000" stroke-width="3"/><path d="M443.1,198.5 L425.9,238.5" stroke="#000" stroke-width="3" fill="none"/></g>
<text x="460.9" y="227" font-size="42.5" textLength="47" lengthAdjust="spacingAndGlyphs" transform="rotate(-15 460.9 227)">70</text>
<g transform="rotate(-15 84.6 406.4)"><ellipse cx="84.6" cy="406.4" rx="14.3" ry="14.3" fill="none" stroke="#000" stroke-width="3"/><path d="M93.2,386.4 L76,426.4" stroke="#000" stroke-width="3" fill="none"/></g>
<text x="111" y="414.9" font-size="42.5" textLength="47" lengthAdjust="spacingAndGlyphs" transform="rotate(-15 111 414.9)">70</text></g>
</svg>
</body></html>
